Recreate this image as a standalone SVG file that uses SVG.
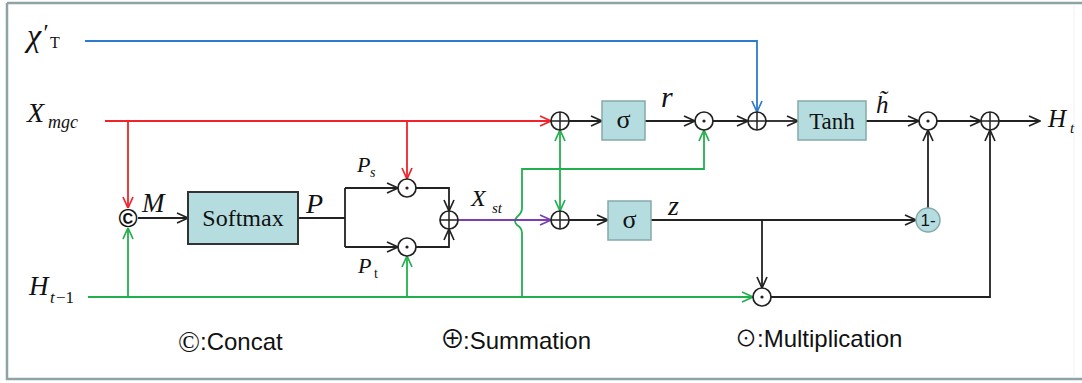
<svg xmlns="http://www.w3.org/2000/svg" width="1082" height="383" viewBox="0 0 1082 383">
<style>
.ln{fill:none;stroke:#222;stroke-width:1.8}
.red{fill:none;stroke:#f2222a;stroke-width:1.8}
.grn{fill:none;stroke:#22b04f;stroke-width:1.8}
.blu{fill:none;stroke:#2b7bcf;stroke-width:1.8}
.pur{fill:none;stroke:#7a3fb0;stroke-width:1.8}
.op{fill:#fff;stroke:#222;stroke-width:1.7}
.box{fill:#b5dde0;stroke:#86a9ab;stroke-width:1.5}
.mi{font-family:"Liberation Serif","Times New Roman",serif;font-style:italic;fill:#111}
.rm{font-family:"Liberation Serif","Times New Roman",serif;fill:#111}
.sa{font-family:"Liberation Sans",Arial,sans-serif;fill:#111}
.sym{font-family:"Noto Sans CJK SC","DejaVu Sans",sans-serif;fill:#111}
</style>
<defs>
<marker id="ak" viewBox="0 0 13 12" refX="12" refY="6" markerWidth="13" markerHeight="12" markerUnits="userSpaceOnUse" orient="auto-start-reverse"><path d="M1,1 L12,6 L1,11" fill="none" stroke="#222" stroke-width="1.7"/></marker>
<marker id="ar" viewBox="0 0 13 12" refX="12" refY="6" markerWidth="13" markerHeight="12" markerUnits="userSpaceOnUse" orient="auto-start-reverse"><path d="M1,1 L12,6 L1,11" fill="none" stroke="#f2222a" stroke-width="1.7"/></marker>
<marker id="ag" viewBox="0 0 13 12" refX="12" refY="6" markerWidth="13" markerHeight="12" markerUnits="userSpaceOnUse" orient="auto-start-reverse"><path d="M1,1 L12,6 L1,11" fill="none" stroke="#22b04f" stroke-width="1.7"/></marker>
<marker id="ab" viewBox="0 0 13 12" refX="12" refY="6" markerWidth="13" markerHeight="12" markerUnits="userSpaceOnUse" orient="auto-start-reverse"><path d="M1,1 L12,6 L1,11" fill="none" stroke="#2b7bcf" stroke-width="1.7"/></marker>
<marker id="ap" viewBox="0 0 13 12" refX="12" refY="6" markerWidth="13" markerHeight="12" markerUnits="userSpaceOnUse" orient="auto-start-reverse"><path d="M1,1 L12,6 L1,11" fill="none" stroke="#7a3fb0" stroke-width="1.7"/></marker>
<g id="oplus"><circle r="9" class="op"/><path d="M-9,0H9M0,-9V9" stroke="#222" stroke-width="1.5"/></g>
<g id="odot"><circle r="9" class="op"/><circle r="1.6" fill="#222"/></g>
</defs>

<rect x="0" y="0" width="1082" height="383" fill="#fff"/>
<g id="frame">
<path d="M7,3 H1082 M7,3 V379 H1082" fill="none" stroke="#8fa3a6" stroke-width="2.5"/>
<path d="M1074,5 V378" stroke="#eef2f2" stroke-width="1"/>
</g>

<g id="connectors">
<path class="blu" d="M85,41 H757 V112" marker-end="url(#ab)"/>
<path class="red" d="M105,121 H551" marker-end="url(#ar)"/>
<path class="red" d="M128,121 V208" marker-end="url(#ar)"/>
<path class="red" d="M407,121 V179" marker-end="url(#ar)"/>
<path class="grn" d="M88,297 H753" marker-end="url(#ag)"/>
<path class="grn" d="M128,297 V228" marker-end="url(#ag)"/>
<path class="grn" d="M407,297 V256" marker-end="url(#ag)"/>
<path class="grn" d="M522,297 V233 Q522,228 517,225 Q513,221 517,217 Q522,213 522,208 V169 H704 V130" marker-end="url(#ag)"/>
<path class="grn" d="M560,169 V130" marker-end="url(#ag)"/>
<path class="grn" d="M560,169 V211" marker-end="url(#ag)"/>
<path class="pur" d="M458,220 H551" marker-end="url(#ap)"/>
<path class="ln" d="M138,218 H188" marker-end="url(#ak)"/>
<path class="ln" d="M298,218 H345 M345,188 V247"/>
<path class="ln" d="M345,188 H398" marker-end="url(#ak)"/>
<path class="ln" d="M345,247 H398" marker-end="url(#ak)"/>
<path class="ln" d="M416,188 H449 V211" marker-end="url(#ak)"/>
<path class="ln" d="M416,247 H449 V229" marker-end="url(#ak)"/>
<path class="ln" d="M569,121 H602" marker-end="url(#ak)"/>
<path class="ln" d="M645,121 H695" marker-end="url(#ak)"/>
<path class="ln" d="M713,121 H748" marker-end="url(#ak)"/>
<path class="ln" d="M766,121 H798" marker-end="url(#ak)"/>
<path class="ln" d="M866,121 H919" marker-end="url(#ak)"/>
<path class="ln" d="M937,121 H981" marker-end="url(#ak)"/>
<path class="ln" d="M999,121 H1040" marker-end="url(#ak)"/>
<path class="ln" d="M569,220 H608" marker-end="url(#ak)"/>
<path class="ln" d="M651,220 H916" marker-end="url(#ak)"/>
<path class="ln" d="M762,220 V288" marker-end="url(#ak)"/>
<path class="ln" d="M928,208 V130" marker-end="url(#ak)"/>
<path class="ln" d="M771,297 H990 V130" marker-end="url(#ak)"/>
</g>

<g id="concat"><circle cx="128" cy="218" r="10" fill="#fff"/><text class="sa" x="128" y="227" font-size="26" font-weight="bold" text-anchor="middle">©</text></g>
<g id="softmax"><rect class="box" x="188" y="192" width="110" height="52" style="stroke:#333;stroke-width:2"/><text class="rm" x="243" y="226" font-size="24" text-anchor="middle">Softmax</text></g>
<g id="mul_s"><use href="#odot" x="407" y="188"/></g>
<g id="mul_t"><use href="#odot" x="407" y="247"/></g>
<g id="sum_st"><use href="#oplus" x="449" y="220"/></g>
<g id="sum_r"><use href="#oplus" x="560" y="121"/></g>
<g id="sum_z"><use href="#oplus" x="560" y="220"/></g>
<g id="sigma_r"><rect class="box" x="602" y="101" width="43" height="39"/><text class="rm" x="623.5" y="128" font-size="26" text-anchor="middle">σ</text></g>
<g id="sigma_z"><rect class="box" x="608" y="201" width="43" height="39"/><text class="rm" x="629.5" y="228" font-size="26" text-anchor="middle">σ</text></g>
<g id="mul_r"><use href="#odot" x="704" y="121"/></g>
<g id="sum_x"><use href="#oplus" x="757" y="121"/></g>
<g id="tanh"><rect class="box" x="798" y="101" width="68" height="39"/><text class="rm" x="832" y="129" font-size="23" text-anchor="middle">Tanh</text></g>
<g id="mul_h"><use href="#odot" x="928" y="121"/></g>
<g id="sum_out"><use href="#oplus" x="990" y="121"/></g>
<g id="one_minus"><circle cx="928" cy="220" r="12" fill="#b5dde0" stroke="#86a9ab" stroke-width="1.5"/><text class="sa" x="928" y="226" font-size="17" text-anchor="middle">1-</text></g>
<g id="mul_z"><use href="#odot" x="762" y="297"/></g>

<g id="labels">
<text class="mi" x="27" y="46" font-size="32">χ</text>
<text class="mi" x="42" y="40" font-size="24">′</text>
<text class="rm" x="50" y="48" font-size="16">T</text>
<text class="mi" x="27" y="122" font-size="28">X</text>
<text class="mi" x="48" y="128" font-size="18">mgc</text>
<text class="mi" x="29" y="295" font-size="27">H</text>
<text class="mi" x="50" y="303" font-size="17">t</text>
<text class="rm" x="56" y="303" font-size="17">−1</text>
<text class="mi" x="142" y="212" font-size="27">M</text>
<text class="mi" x="306" y="213" font-size="28">P</text>
<text class="mi" x="357" y="172" font-size="22">P</text>
<text class="mi" x="370" y="177" font-size="14">s</text>
<text class="mi" x="358" y="273" font-size="22">P</text>
<text class="rm" x="374" y="278" font-size="14">t</text>
<text class="mi" x="471" y="206" font-size="24">X</text>
<text class="mi" x="492" y="213" font-size="15">st</text>
<text class="mi" x="661" y="107" font-size="30">r</text>
<text class="mi" x="668" y="215" font-size="28">z</text>
<text class="mi" x="876" y="113" font-size="25">h&#x303;</text>
<text class="mi" x="1048" y="127" font-size="25">H</text>
<text class="mi" x="1070" y="133" font-size="15">t</text>
</g>

<g id="legend">
<text class="rm" x="178" y="352" font-size="29">©</text>
<text class="sa" x="200" y="350" font-size="24">:Concat</text>
<text class="sym" x="440" y="348" font-size="25">⊕</text>
<text class="sa" x="463" y="349" font-size="24">:Summation</text>
<text class="sym" x="735" y="346" font-size="22">⊙</text>
<text class="sa" x="757" y="347" font-size="24">:Multiplication</text>
</g>
</svg>
